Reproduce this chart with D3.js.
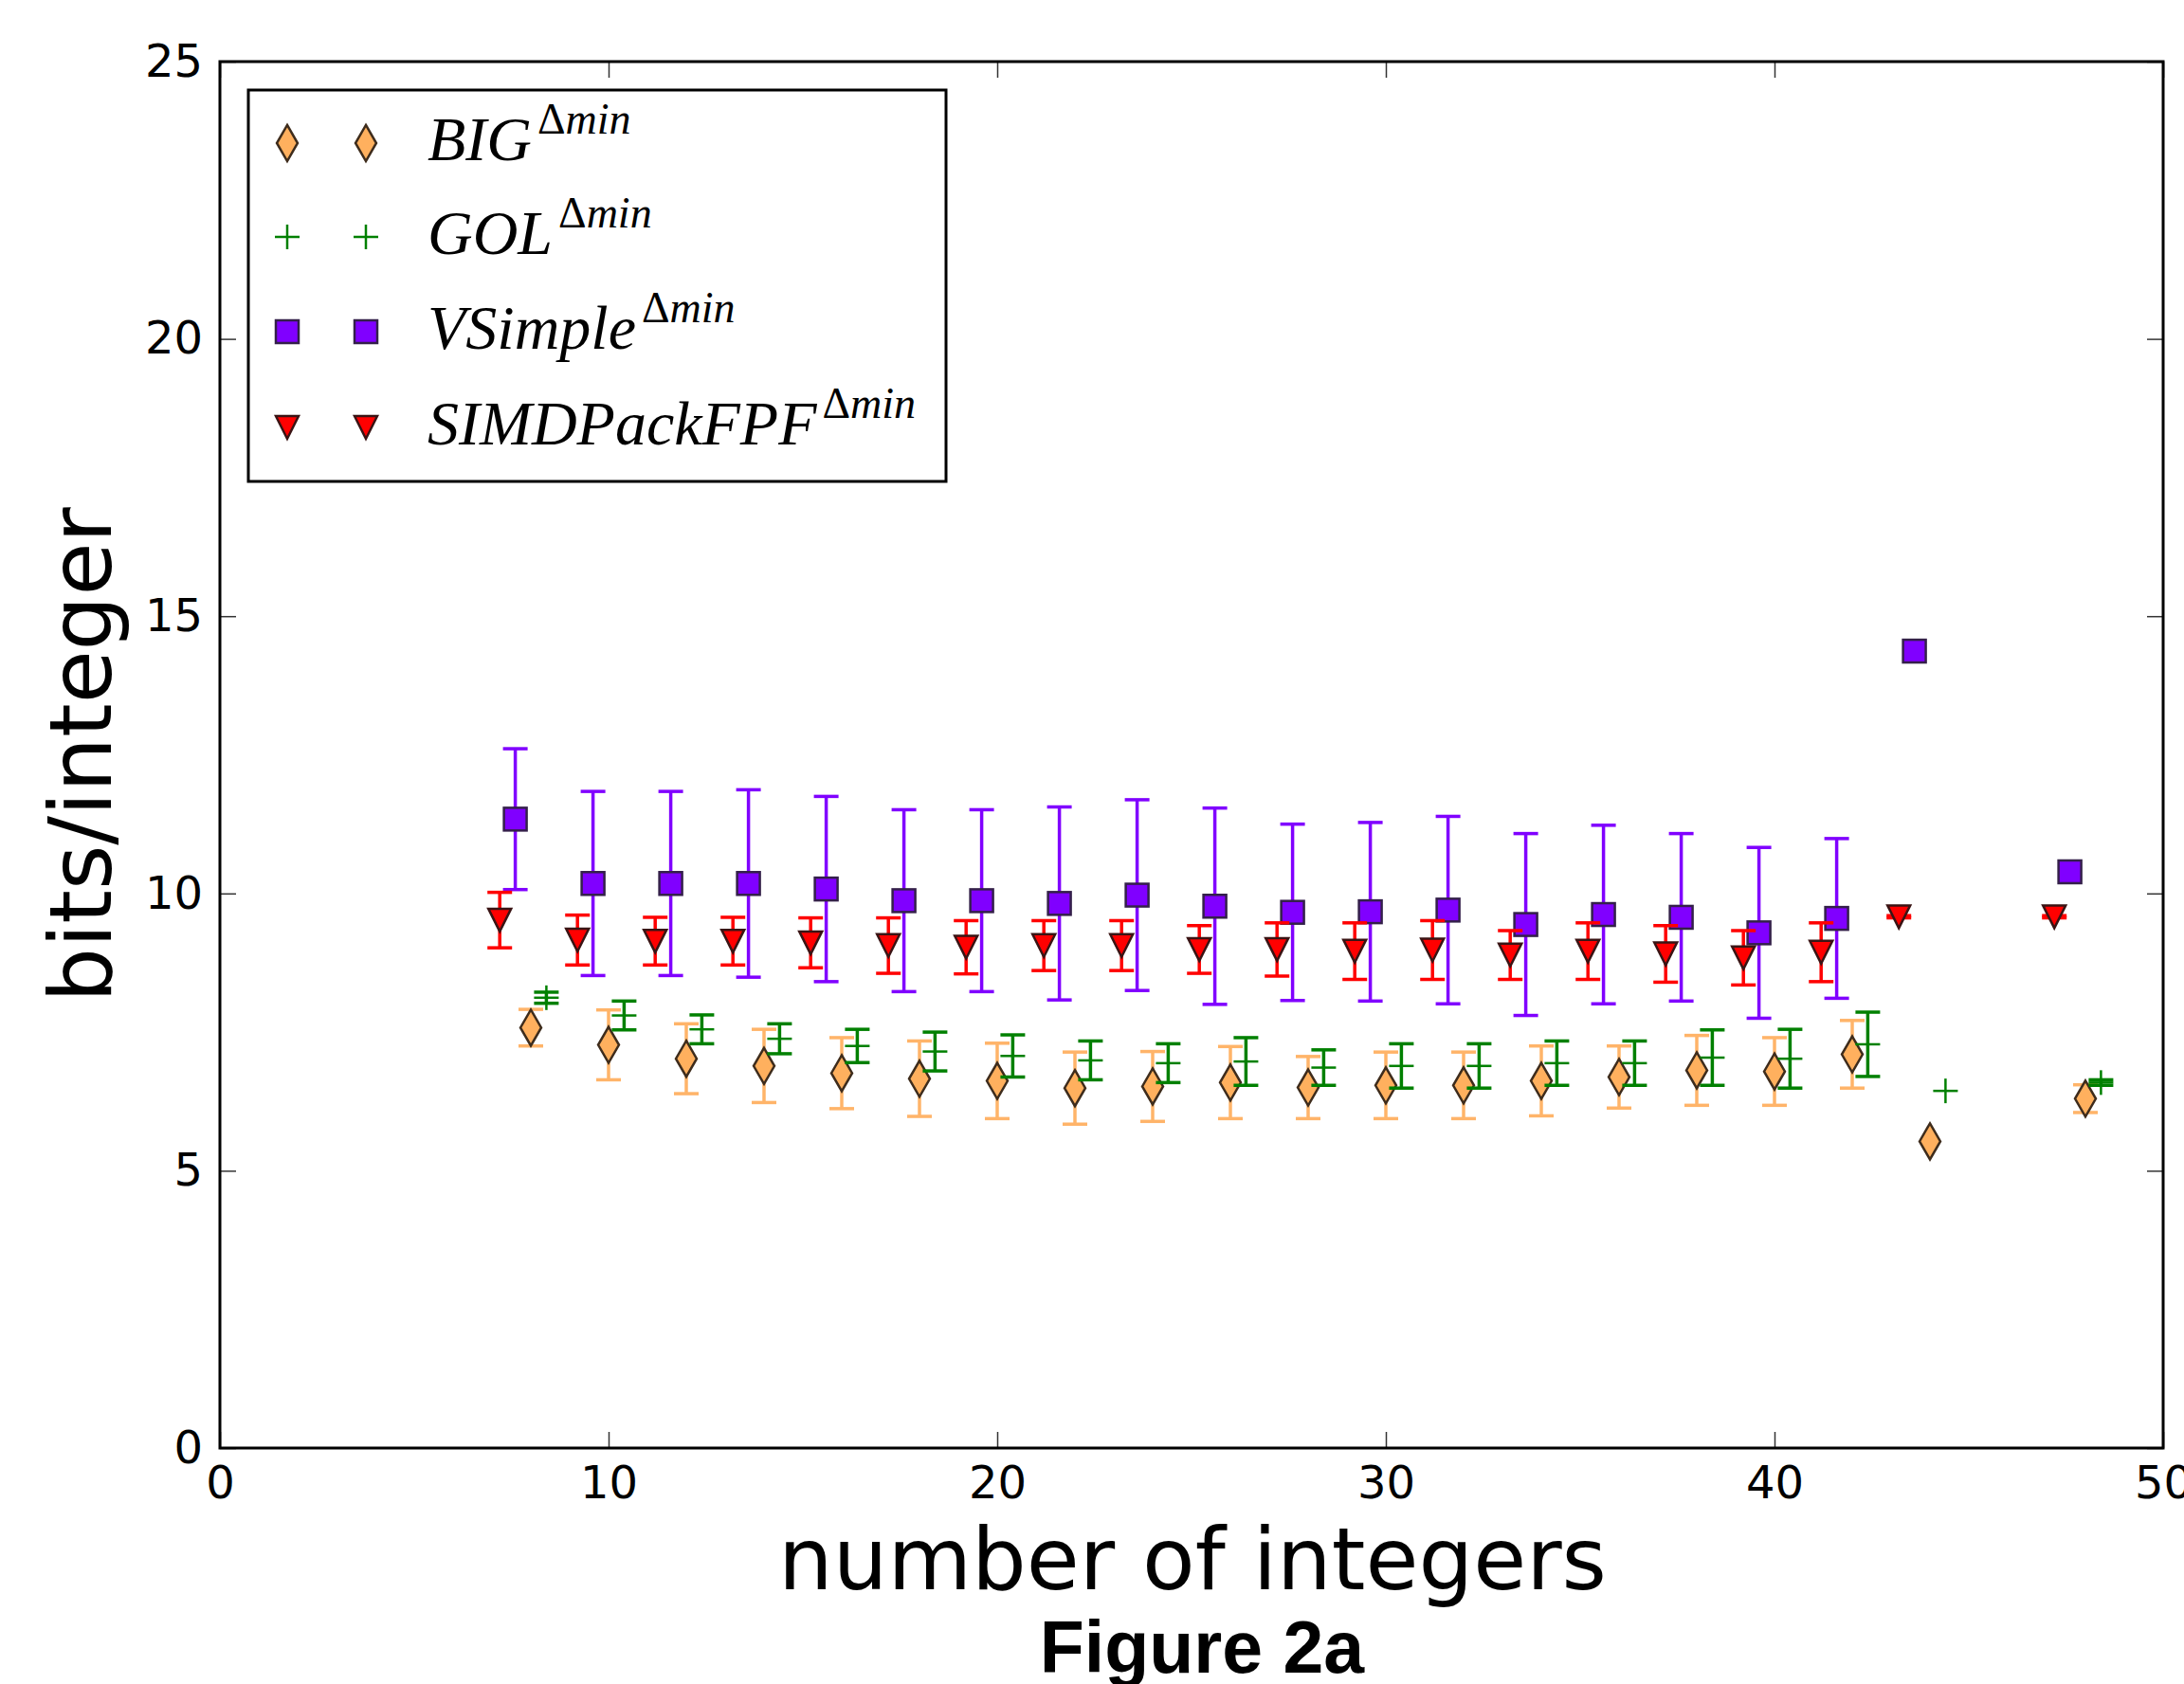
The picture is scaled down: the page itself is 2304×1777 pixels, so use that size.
<!DOCTYPE html>
<html>
<head>
<meta charset="utf-8">
<script src="https://d3js.org/d3.v7.min.js"></script>
<style>
body { margin: 0; background: #fff; }
.axis text { font-family: "DejaVu Sans"; font-size: 48px; fill: #000; }
.axis line { stroke: #333; stroke-width: 1.5px; }
.axis path { display: none; }
.legend text { font-family: "Liberation Serif"; font-style: italic; font-size: 66px; fill: #000; }
</style>
</head>
<body>
<script>
// number of integers (base x); each series is dodged a little around it
var counts = [8,10,12,14,16,18,20,22,24,26,28,30,32,34,36,38,40,42,44,48];

var bigMean  = [7.58,7.27,7.02,6.89,6.76,6.66,6.62,6.49,6.52,6.59,6.50,6.54,6.54,6.62,6.69,6.81,6.79,7.10,5.53,6.30];
var bigErr   = [0.33,0.63,0.63,0.66,0.64,0.68,0.68,0.65,0.63,0.65,0.56,0.60,0.60,0.63,0.56,0.63,0.61,0.61,null,0.25];
var golMean  = [8.12,7.80,7.55,7.38,7.25,7.15,7.07,6.99,6.94,6.97,6.86,6.89,6.89,6.94,6.94,7.04,7.02,7.28,6.44,6.59];
var golErr   = [0.10,0.26,0.26,0.27,0.30,0.35,0.38,0.35,0.35,0.43,0.32,0.40,0.40,0.40,0.40,0.50,0.53,0.58,null,0.05];
var vsMean   = [11.34,10.18,10.18,10.18,10.08,9.87,9.87,9.82,9.97,9.77,9.66,9.67,9.70,9.44,9.62,9.57,9.29,9.55,14.37,10.39];
var vsErr    = [1.27,1.66,1.66,1.69,1.67,1.64,1.64,1.74,1.72,1.77,1.59,1.61,1.69,1.64,1.61,1.51,1.54,1.44,null,null];
var simdMean = [9.52,9.16,9.14,9.14,9.11,9.06,9.03,9.06,9.06,8.99,8.99,8.96,8.98,8.89,8.96,8.91,8.84,8.94,9.58,9.58];
var simdErr  = [0.50,0.45,0.43,0.43,0.45,0.50,0.48,0.45,0.45,0.43,0.48,0.51,0.53,0.44,0.51,0.51,0.49,0.53,0.02,0.02];

var xTicks = [0,10,20,30,40,50];
var yTicks = [0,5,10,15,20,25];

var series = [
  {name: "BIG",          mean: bigMean,  err: bigErr,  dx: 0,    color: "#ffb469", fill: "#ffb05e", edge: "#3e2c1c", marker: "diamond"},
  {name: "GOL",          mean: golMean,  err: golErr,  dx: 0.4,  color: "#008000", fill: "#008000", edge: "#008000", marker: "plus"},
  {name: "VSimple",      mean: vsMean,   err: vsErr,   dx: -0.4, color: "#8000ff", fill: "#8000ff", edge: "#34204a", marker: "square"},
  {name: "SIMDPackFPF",  mean: simdMean, err: simdErr, dx: -0.8, color: "#ff0000", fill: "#ff0000", edge: "#3a1414", marker: "triangle"}
];

var W = 2304, H = 1777;
var margin = {top: 65, right: 22, bottom: 249, left: 232},
    width = W - margin.left - margin.right,
    height = H - margin.top - margin.bottom;

var x = d3.scaleLinear().domain([0, 50]).range([0, width]);
var y = d3.scaleLinear().domain([0, 25]).range([height, 0]);

var svg = d3.select("body").append("svg")
    .attr("width", W)
    .attr("height", H)
    .style("background", "#fff");

var g = svg.append("g")
    .attr("transform", "translate(" + margin.left + "," + margin.top + ")");

// axes, ticks pointing inward
g.append("g").attr("class", "axis")
    .attr("transform", "translate(0," + height + ")")
    .call(d3.axisBottom(x).tickValues(xTicks).tickSize(-17).tickPadding(19).tickFormat(d3.format("d")));
g.append("g").attr("class", "axis")
    .call(d3.axisTop(x).tickValues(xTicks).tickSize(-17).tickFormat(""));
g.append("g").attr("class", "axis")
    .call(d3.axisLeft(y).tickValues(yTicks).tickSize(-17).tickPadding(18).tickFormat(d3.format("d")));
g.append("g").attr("class", "axis")
    .attr("transform", "translate(" + width + ",0)")
    .call(d3.axisRight(y).tickValues(yTicks).tickSize(-17).tickFormat(""));

var plot = g.append("g");

function drawMarker(sel, type, s, cx, cy) {
  if (type === "diamond") {
    sel.append("path")
      .attr("d", d3.symbol().type(d3.symbolDiamond).size(417)())
      .attr("transform", "translate(" + cx + "," + cy + ")")
      .attr("fill", s.fill).attr("stroke", s.edge).attr("stroke-width", 2.5);
  } else if (type === "square") {
    sel.append("rect")
      .attr("x", cx - 12).attr("y", cy - 12).attr("width", 24).attr("height", 24)
      .attr("fill", s.fill).attr("stroke", s.edge).attr("stroke-width", 2.5);
  } else if (type === "triangle") {
    var p = d3.path();
    p.moveTo(cx - 12, cy - 12); p.lineTo(cx + 12, cy - 12); p.lineTo(cx, cy + 12); p.closePath();
    sel.append("path").attr("d", p.toString())
      .attr("fill", s.fill).attr("stroke", s.edge).attr("stroke-width", 2.5)
      .attr("stroke-linejoin", "miter");
  } else if (type === "plus") {
    sel.append("line").attr("x1", cx - 13).attr("x2", cx + 13).attr("y1", cy).attr("y2", cy)
      .attr("stroke", s.color).attr("stroke-width", 2.5);
    sel.append("line").attr("x1", cx).attr("x2", cx).attr("y1", cy - 13).attr("y2", cy + 13)
      .attr("stroke", s.color).attr("stroke-width", 2.5);
  }
}

series.forEach(function(s) {
  var layer = plot.append("g");
  var pts = counts.map(function(c, i) { return {x: c + s.dx, m: s.mean[i], e: s.err[i]}; });
  // error bars
  pts.forEach(function(d) {
    if (d.e === null) return;
    var px = x(d.x), y0 = y(d.m - d.e), y1 = y(d.m + d.e);
    layer.append("line").attr("x1", px).attr("x2", px).attr("y1", y0).attr("y2", y1)
      .attr("stroke", s.color).attr("stroke-width", 3.5);
    [y0, y1].forEach(function(cy) {
      layer.append("line").attr("x1", px - 13).attr("x2", px + 13).attr("y1", cy).attr("y2", cy)
        .attr("stroke", s.color).attr("stroke-width", 3.5);
    });
  });
  pts.forEach(function(d) { drawMarker(layer, s.marker, s, x(d.x), y(d.m)); });
});

// frame
g.append("rect")
    .attr("width", width).attr("height", height)
    .attr("fill", "none").attr("stroke", "#000").attr("stroke-width", 3);

// legend
var legend = svg.append("g").attr("class", "legend");
legend.append("rect")
    .attr("x", 262).attr("y", 95).attr("width", 736).attr("height", 413)
    .attr("fill", "#fff").attr("stroke", "#000").attr("stroke-width", 3);
var rowY = [151, 250, 350, 451];
series.forEach(function(s, i) {
  drawMarker(legend, s.marker, s, 303, rowY[i]);
  drawMarker(legend, s.marker, s, 386, rowY[i]);
  var t = legend.append("text").attr("x", 451).attr("y", rowY[i] + 18);
  t.append("tspan").text(s.name);
  t.append("tspan").attr("dy", -28).attr("font-size", 46).attr("font-style", "normal").attr("dx", 6).text("\u0394");
  t.append("tspan").attr("font-size", 46).text("min");
});

// axis titles
svg.append("text")
    .attr("x", margin.left + width / 2 + 1).attr("y", 1677)
    .attr("text-anchor", "middle")
    .style("font-family", "DejaVu Sans").style("font-size", "91px")
    .text("number of integers");

svg.append("text")
    .attr("transform", "translate(117," + (margin.top + height / 2) + ") rotate(-90)")
    .attr("text-anchor", "middle")
    .style("font-family", "DejaVu Sans").style("font-size", "91px")
    .text("bits/integer");

svg.append("text")
    .attr("x", 1268).attr("y", 1765)
    .attr("text-anchor", "middle")
    .style("font-family", "Liberation Sans").style("font-weight", "bold").style("font-size", "77px")
    .text("Figure 2a");
</script>
</body>
</html>
